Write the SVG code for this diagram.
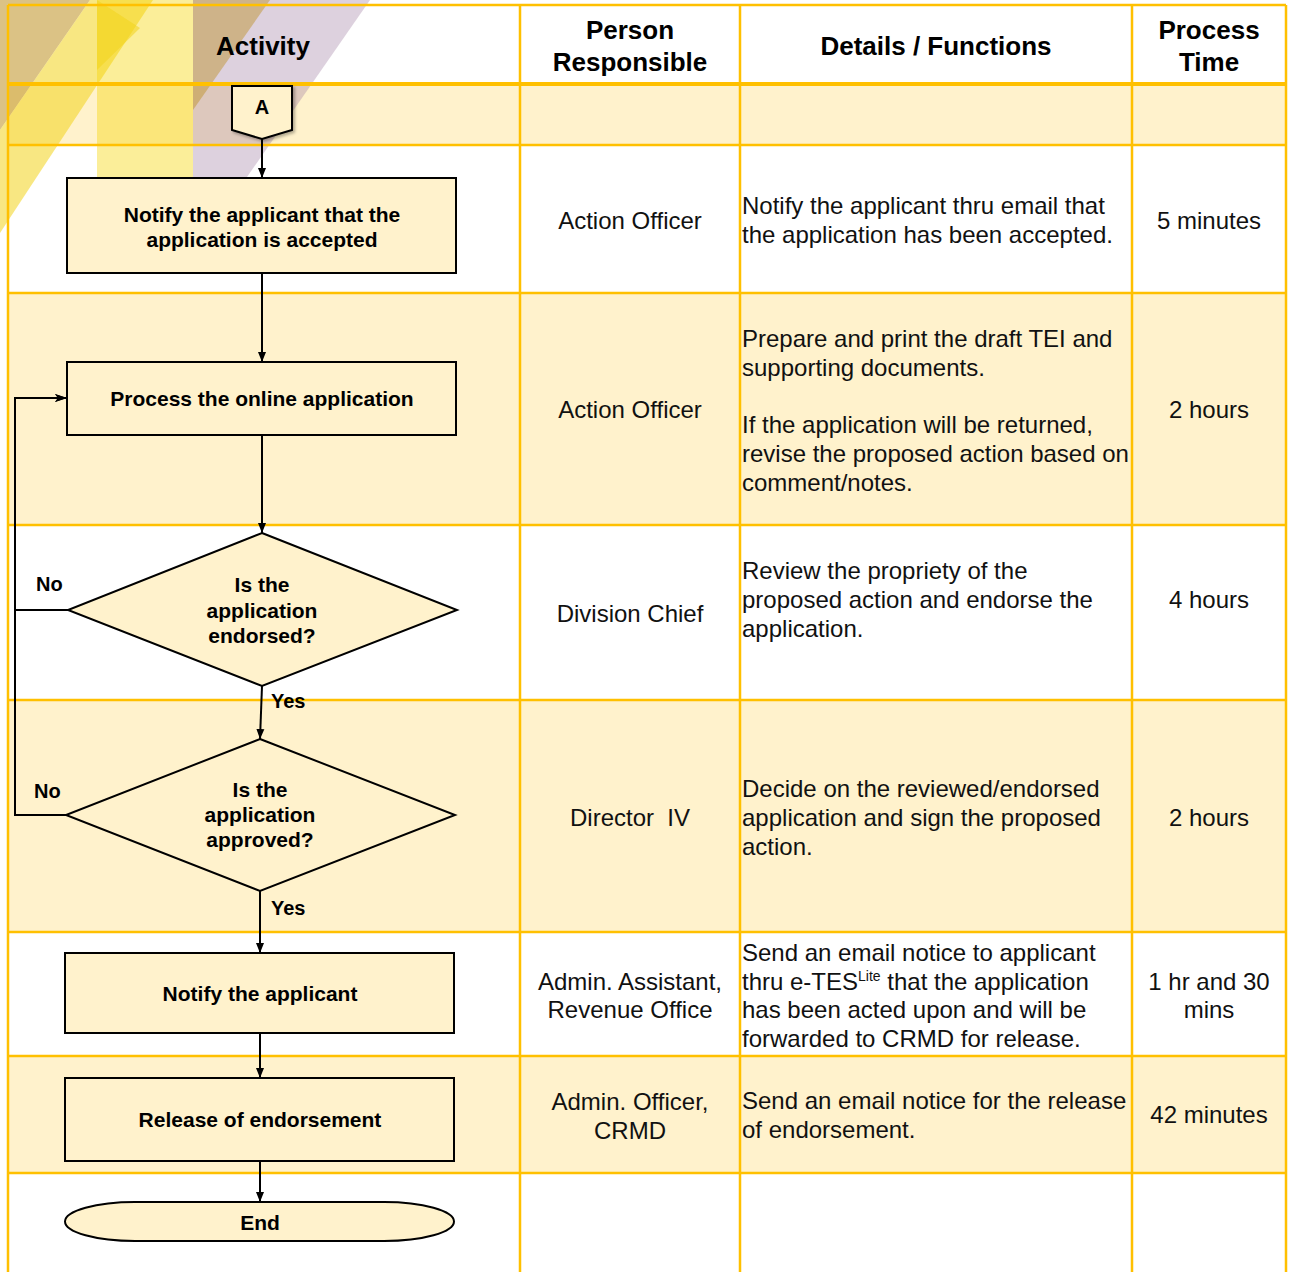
<svg xmlns="http://www.w3.org/2000/svg" width="1290" height="1272" viewBox="0 0 1290 1272">
<defs>
<style>
.grid{stroke:#FFC000;stroke-width:2.5;fill:none}
.band{fill:#FFF2CC}
.node{fill:#FFF2CC;stroke:#000;stroke-width:2}
.conn{fill:none;stroke:#000;stroke-width:2}
.hd{font-family:"Liberation Sans",Arial,sans-serif;font-weight:bold;font-size:26px;fill:#000;text-anchor:middle}
.fl{font-family:"Liberation Sans",Arial,sans-serif;font-weight:bold;font-size:21px;fill:#000;text-anchor:middle}
.lb{font-family:"Liberation Sans",Arial,sans-serif;font-weight:bold;font-size:20px;fill:#000}
.tx{font-family:"Liberation Sans",Arial,sans-serif;font-size:24px;fill:#111}
.c{text-anchor:middle}
</style>
<marker id="arr" viewBox="0 0 10 10" refX="10" refY="5" markerWidth="10" markerHeight="10" markerUnits="userSpaceOnUse" orient="auto">
<path d="M0,1 L10,5 L0,9 z" fill="#000"/>
</marker>
<marker id="arr2" viewBox="0 0 12 10" refX="12" refY="5" markerWidth="12" markerHeight="10" markerUnits="userSpaceOnUse" orient="auto">
<path d="M0,1 L12,5 L0,9 L3,5 z" fill="#000"/>
</marker>
<filter id="sh" x="-20%" y="-20%" width="150%" height="150%">
<feDropShadow dx="2" dy="2" stdDeviation="1.5" flood-color="#000" flood-opacity="0.3"/>
</filter>
</defs>

<rect x="0" y="0" width="1290" height="1272" fill="#fff"/>

<g id="row-bands">
<rect class="band" x="8" y="85" width="1278" height="60"/>
<rect class="band" x="8" y="293" width="1278" height="232"/>
<rect class="band" x="8" y="700" width="1278" height="232"/>
<rect class="band" x="8" y="1056" width="1278" height="117"/>
</g>

<g id="decoration">
<polygon points="0,0 90,0 0,130" fill="#B8860B" fill-opacity="0.5"/>
<polygon points="90,0 153,0 0,233 0,130" fill="#F2D31B" fill-opacity="0.55"/>
<rect x="97" y="0" width="96" height="190" fill="#F5D400" fill-opacity="0.4"/>
<polygon points="97,0 140,28 97,70" fill="#F2D31B" fill-opacity="0.55"/>
<polygon points="193,0 370,0 247,177 193,177" fill="#9E7AA0" fill-opacity="0.35"/>
<polygon points="193,0 270,0 193,110" fill="#B8860B" fill-opacity="0.4"/>
</g>

<g id="grid">
<line class="grid" x1="8" y1="5" x2="1286" y2="5"/>
<line class="grid" x1="8" y1="84" x2="1286" y2="84" style="stroke-width:4"/>
<line class="grid" x1="8" y1="145" x2="1286" y2="145"/>
<line class="grid" x1="8" y1="293" x2="1286" y2="293"/>
<line class="grid" x1="8" y1="525" x2="1286" y2="525"/>
<line class="grid" x1="8" y1="700" x2="1286" y2="700"/>
<line class="grid" x1="8" y1="932" x2="1286" y2="932"/>
<line class="grid" x1="8" y1="1056" x2="1286" y2="1056"/>
<line class="grid" x1="8" y1="1173" x2="1286" y2="1173"/>
<line class="grid" x1="8" y1="5" x2="8" y2="1272"/>
<line class="grid" x1="520" y1="5" x2="520" y2="1272"/>
<line class="grid" x1="740" y1="5" x2="740" y2="1272"/>
<line class="grid" x1="1132" y1="5" x2="1132" y2="1272"/>
<line class="grid" x1="1286" y1="5" x2="1286" y2="1272"/>
</g>

<g id="headers">
<text class="hd" x="263" y="55">Activity</text>
<text class="hd" x="630" y="39">Person</text>
<text class="hd" x="630" y="71">Responsible</text>
<text class="hd" x="936" y="55">Details / Functions</text>
<text class="hd" x="1209" y="39">Process</text>
<text class="hd" x="1209" y="71">Time</text>
</g>

<g id="connectors">
<line class="conn" x1="262" y1="139" x2="262" y2="178" marker-end="url(#arr)"/>
<line class="conn" x1="262" y1="273" x2="262" y2="362" marker-end="url(#arr)"/>
<line class="conn" x1="262" y1="435" x2="262" y2="533" marker-end="url(#arr)"/>
<line class="conn" x1="262" y1="686" x2="260" y2="739" marker-end="url(#arr)"/>
<path class="conn" d="M68,610 L15,610 L15,398 L67,398" marker-end="url(#arr2)"/>
<path class="conn" d="M66,815 L15,815 L15,398 L67,398" marker-end="url(#arr2)"/>
<line class="conn" x1="260" y1="891" x2="260" y2="953" marker-end="url(#arr)"/>
<line class="conn" x1="260" y1="1033" x2="260" y2="1078" marker-end="url(#arr)"/>
<line class="conn" x1="260" y1="1161" x2="260" y2="1202" marker-end="url(#arr)"/>
<text class="lb" x="36" y="591">No</text>
<text class="lb" x="34" y="798">No</text>
<text class="lb" x="271" y="708">Yes</text>
<text class="lb" x="271" y="915">Yes</text>
</g>

<g id="node-A">
<polygon class="node" points="232,86 292,86 292,130 262,139 232,130" filter="url(#sh)"/>
<text class="fl" x="262" y="114" style="font-size:20px">A</text>
</g>

<g id="node-notify-accepted">
<rect class="node" x="67" y="178" width="389" height="95"/>
<text class="fl" x="262" y="222">Notify the applicant that the</text>
<text class="fl" x="262" y="247">application is accepted</text>
</g>

<g id="node-process">
<rect class="node" x="67" y="362" width="389" height="73"/>
<text class="fl" x="262" y="406">Process the online application</text>
</g>

<g id="node-endorsed">
<polygon class="node" points="262,533 457,610 262,686 68,610"/>
<text class="fl" x="262" y="592">Is the</text>
<text class="fl" x="262" y="618">application</text>
<text class="fl" x="262" y="643">endorsed?</text>
</g>

<g id="node-approved">
<polygon class="node" points="260,739 455,815 260,891 66,815"/>
<text class="fl" x="260" y="797">Is the</text>
<text class="fl" x="260" y="822">application</text>
<text class="fl" x="260" y="847">approved?</text>
</g>

<g id="node-notify">
<rect class="node" x="65" y="953" width="389" height="80"/>
<text class="fl" x="260" y="1001">Notify the applicant</text>
</g>

<g id="node-release">
<rect class="node" x="65" y="1078" width="389" height="83"/>
<text class="fl" x="260" y="1127">Release of endorsement</text>
</g>

<g id="node-end">
<rect class="node" x="65" y="1202" width="389" height="39" rx="70" ry="19.5"/>
<text class="fl" x="260" y="1230">End</text>
</g>

<g id="row-1-text">
<text class="tx c" x="630" y="229">Action Officer</text>
<text class="tx" x="742" y="214">Notify the applicant thru email that</text>
<text class="tx" x="742" y="243">the application has been accepted.</text>
<text class="tx c" x="1209" y="229">5 minutes</text>
</g>

<g id="row-2-text">
<text class="tx c" x="630" y="418">Action Officer</text>
<text class="tx" x="742" y="347">Prepare and print the draft TEI and</text>
<text class="tx" x="742" y="376">supporting documents.</text>
<text class="tx" x="742" y="433">If the application will be returned,</text>
<text class="tx" x="742" y="462">revise the proposed action based on</text>
<text class="tx" x="742" y="491">comment/notes.</text>
<text class="tx c" x="1209" y="418">2 hours</text>
</g>

<g id="row-3-text">
<text class="tx c" x="630" y="622">Division Chief</text>
<text class="tx" x="742" y="579">Review the propriety of the</text>
<text class="tx" x="742" y="608">proposed action and endorse the</text>
<text class="tx" x="742" y="637">application.</text>
<text class="tx c" x="1209" y="608">4 hours</text>
</g>

<g id="row-4-text">
<text class="tx c" x="630" y="826" xml:space="preserve">Director  IV</text>
<text class="tx" x="742" y="797">Decide on the reviewed/endorsed</text>
<text class="tx" x="742" y="826">application and sign the proposed</text>
<text class="tx" x="742" y="855">action.</text>
<text class="tx c" x="1209" y="826">2 hours</text>
</g>

<g id="row-5-text">
<text class="tx c" x="630" y="990">Admin. Assistant,</text>
<text class="tx c" x="630" y="1018">Revenue Office</text>
<text class="tx" x="742" y="961">Send an email notice to applicant</text>
<text class="tx" x="742" y="990">thru e-TES<tspan font-size="14" dy="-9">Lite</tspan><tspan dy="9"> that the application</tspan></text>
<text class="tx" x="742" y="1018">has been acted upon and will be</text>
<text class="tx" x="742" y="1047">forwarded to CRMD for release.</text>
<text class="tx c" x="1209" y="990">1 hr and 30</text>
<text class="tx c" x="1209" y="1018">mins</text>
</g>

<g id="row-6-text">
<text class="tx c" x="630" y="1110">Admin. Officer,</text>
<text class="tx c" x="630" y="1139">CRMD</text>
<text class="tx" x="742" y="1109">Send an email notice for the release</text>
<text class="tx" x="742" y="1138">of endorsement.</text>
<text class="tx c" x="1209" y="1123">42 minutes</text>
</g>
</svg>
